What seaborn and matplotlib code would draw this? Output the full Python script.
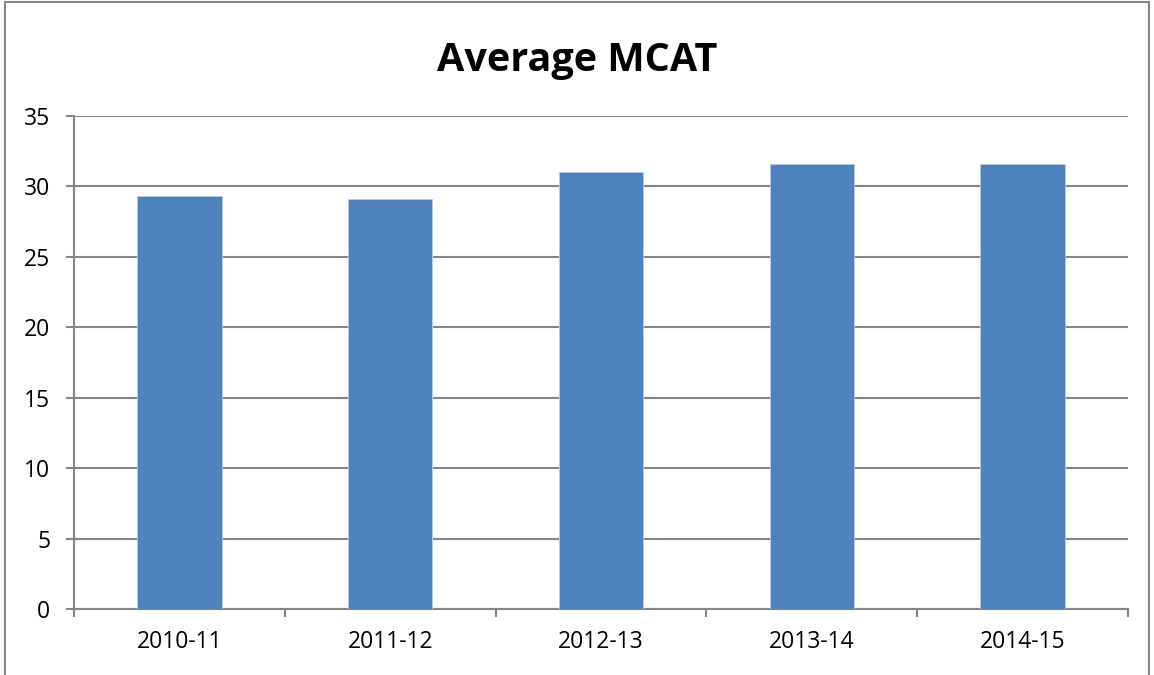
import matplotlib
matplotlib.use("Agg")
import matplotlib.pyplot as plt
import seaborn as sns
from matplotlib.patches import Rectangle

seasons = ["2010-11", "2011-12", "2012-13", "2013-14", "2014-15"]
mcat = [29.3, 29.1, 31.0, 31.6, 31.6]
y_ticks = [0, 5, 10, 15, 20, 25, 30, 35]

sns.set_style("white")
plt.rcParams["font.family"] = ["Open Sans", "DejaVu Sans"]
plt.rcParams["text.color"] = "black"
plt.rcParams["xtick.labelcolor"] = "black"
plt.rcParams["ytick.labelcolor"] = "black"

grey = "#868686"
fig = plt.figure(figsize=(11.54, 6.75), dpi=100)
ax = fig.add_axes([0.0641, 0.0978, 0.9134, 0.7303])

sns.barplot(x=seasons, y=mcat, color="#4F81BD", saturation=1, width=0.4,
            edgecolor="#B9CDE5", linewidth=0.6, ax=ax, zorder=3)

ax.set_ylim(0, 35)
ax.set_xlim(-0.5, len(seasons) - 0.5)
ax.set_yticks(y_ticks)
ax.yaxis.grid(True, color=grey, linewidth=1.5, zorder=0)
ax.set_axisbelow(True)

# category labels at centres, tick marks at boundaries
ax.set_xticks([i - 0.5 for i in range(len(seasons) + 1)])
ax.set_xticklabels([])
ax.set_xticks(range(len(seasons)), minor=True)
ax.set_xticklabels(seasons, minor=True)
ax.tick_params(axis="x", which="major", length=6, width=1.5, color=grey, direction="out", bottom=True)
ax.tick_params(axis="x", which="minor", length=0, pad=15, labelsize=16.5, labelcolor="black")
ax.tick_params(axis="y", length=6, width=1.5, color=grey, direction="out", left=True, pad=11,
               labelsize=16.5, labelcolor="black")

for side in ["top", "right"]:
    ax.spines[side].set_visible(False)
for side in ["left", "bottom"]:
    ax.spines[side].set_color(grey)
    ax.spines[side].set_linewidth(1.5)
ax.set_xlabel("")
ax.set_ylabel("")

fig.text(0.5, 0.91, "Average MCAT", ha="center", va="center",
         fontsize=28.5, fontweight="bold", color="black")

fig.patches.append(Rectangle((0.004, -0.1), 0.992, 1.097, transform=fig.transFigure,
                             fill=False, edgecolor=grey, linewidth=1.5))

fig.savefig("out.png", dpi=100)
